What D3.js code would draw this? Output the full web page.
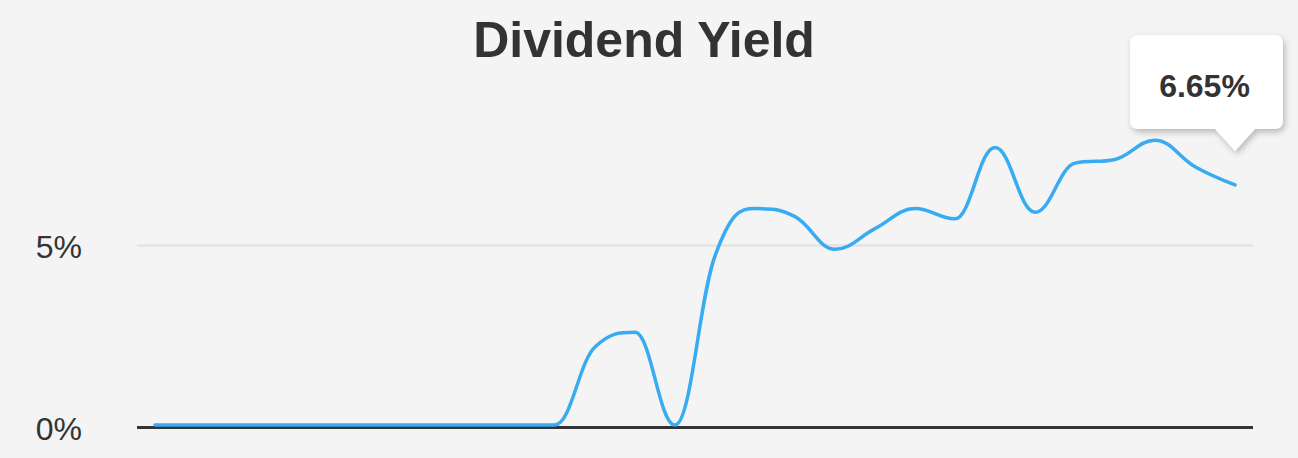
<!DOCTYPE html>
<html>
<head>
<meta charset="utf-8">
<script src="https://cdn.jsdelivr.net/npm/d3@7"></script>
<style>
  html, body { margin: 0; padding: 0; background: #f4f4f4; }
  svg { display: block; font-family: "Liberation Sans", Arial, Helvetica, sans-serif; }
</style>
</head>
<body>
<svg id="chart" width="1298" height="458"></svg>
<script>
// ---- data ----
const title = "Dividend Yield";
const yieldValues = [0, 0, 0, 0, 0, 0, 0, 0, 0, 0, 0,
  2.2, 2.6, 0, 4.7, 6.0, 5.78, 4.88, 5.45, 6.0, 5.72,
  7.68, 5.9, 7.25, 7.35, 7.88, 7.15, 6.65];
const periods = yieldValues.map((d, i) => i);
const yTicks = [0, 5];
const tooltipLabel = "6.65%";

// ---- layout ----
const W = 1298, H = 458;
const svg = d3.select("#chart");
svg.append("rect").attr("width", W).attr("height", H).attr("fill", "#f4f4f4");

const x = d3.scalePoint().domain(periods).range([155, 1235]);
const y = d3.scaleLinear().domain([0, 5]).range([427, 245]);
const plotLeft = 137, plotRight = 1253;

// title
svg.append("text").attr("x", 644).attr("y", 57).attr("text-anchor", "middle")
  .attr("font-size", 50).attr("font-weight", "bold").attr("fill", "#333").text(title);

// y axis (gridlines + labels)
const yAxis = d3.axisLeft(y).tickValues(yTicks).tickFormat(d => d + "%")
  .tickSize(-(plotRight - plotLeft)).tickPadding(55);
const gy = svg.append("g").attr("transform", `translate(${plotLeft},0)`).call(yAxis);
gy.select(".domain").remove();
gy.selectAll(".tick line").attr("stroke", d => d === 0 ? "#333" : "#e6e6e6")
  .attr("stroke-width", 3);
gy.selectAll(".tick text").attr("font-size", 32).attr("fill", "#333")
  .attr("font-family", "'Liberation Sans', Arial, sans-serif")
  .attr("dy", "0.38em");

// Highcharts-like spline curve
function splinePath(pts) {
  const s = 1.5, den = s + 1;
  let d = `M${pts[0][0]},${pts[0][1]}`;
  const ctrl = pts.map((p, i) => {
    if (i === 0 || i === pts.length - 1) return null;
    const [px, py] = p, [lx, ly] = pts[i - 1], [nx, ny] = pts[i + 1];
    let lcx = (s * px + lx) / den, lcy = (s * py + ly) / den;
    let rcx = (s * px + nx) / den, rcy = (s * py + ny) / den;
    if (rcx !== lcx) {
      const corr = ((rcy - lcy) * (rcx - px)) / (rcx - lcx) + py - rcy;
      lcy += corr; rcy += corr;
    }
    if (lcy > ly && lcy > py) { lcy = Math.max(ly, py); rcy = 2 * py - lcy; }
    else if (lcy < ly && lcy < py) { lcy = Math.min(ly, py); rcy = 2 * py - lcy; }
    if (rcy > ny && rcy > py) { rcy = Math.max(ny, py); lcy = 2 * py - rcy; }
    else if (rcy < ny && rcy < py) { rcy = Math.min(ny, py); lcy = 2 * py - rcy; }
    return { lcx, lcy, rcx, rcy };
  });
  for (let i = 1; i < pts.length; i++) {
    const a = ctrl[i - 1] ? [ctrl[i - 1].rcx, ctrl[i - 1].rcy] : pts[i - 1];
    const b = ctrl[i] ? [ctrl[i].lcx, ctrl[i].lcy] : pts[i];
    d += `C${a[0]},${a[1]},${b[0]},${b[1]},${pts[i][0]},${pts[i][1]}`;
  }
  return d;
}
const pts = yieldValues.map((v, i) => [x(periods[i]), y(v) - (v === 0 ? 2 : 0)]);
svg.append("path").attr("d", splinePath(pts)).attr("fill", "none")
  .attr("stroke", "#38abf2").attr("stroke-width", 3.5)
  .attr("stroke-linecap", "round").attr("stroke-linejoin", "round");

// tooltip at last point
const last = yieldValues.length - 1;
const tx = x(periods[last]), ty = y(yieldValues[last]);
const defs = svg.append("defs");
const f = defs.append("filter").attr("id", "sh").attr("x", "-20%").attr("y", "-20%")
  .attr("width", "150%").attr("height", "150%");
f.append("feDropShadow").attr("dx", 2).attr("dy", 3).attr("stdDeviation", 3)
  .attr("flood-color", "#000").attr("flood-opacity", 0.25);
const boxL = tx - 105, boxR = tx + 48, boxT = ty - 150, boxB = ty - 56, r = 9;
const tipY = ty - 34;
const tp = `M${boxL + r},${boxT} H${boxR - r} Q${boxR},${boxT} ${boxR},${boxT + r}
  V${boxB - r} Q${boxR},${boxB} ${boxR - r},${boxB} H${tx + 20} L${tx},${tipY} L${tx - 20},${boxB}
  H${boxL + r} Q${boxL},${boxB} ${boxL},${boxB - r} V${boxT + r} Q${boxL},${boxT} ${boxL + r},${boxT} Z`;
svg.append("path").attr("d", tp).attr("fill", "#fff").attr("filter", "url(#sh)");
svg.append("text").attr("x", (boxL + boxR) / 2 - 2).attr("y", boxT + 62)
  .attr("text-anchor", "middle").attr("font-size", 32).attr("font-weight", "bold")
  .attr("fill", "#333").text(tooltipLabel);
</script>
</body>
</html>
